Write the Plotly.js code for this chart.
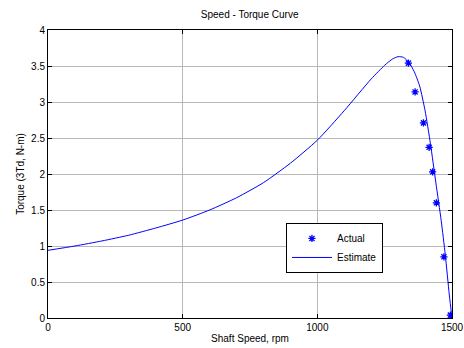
<!DOCTYPE html>
<html>
<head>
<meta charset="utf-8">
<script src="https://cdn.plot.ly/plotly-3.0.1.min.js"></script>
<style>html,body{margin:0;padding:0;background:#fff;}#chart{width:464px;height:348px;}</style>
</head>
<body>
<div id="chart"></div>
<script>
// Measured ("Actual") points
const actualSpeed = [1338, 1363, 1394, 1415, 1428, 1442, 1470, 1494, 1500];
const actualTorque = [3.54, 3.14, 2.71, 2.37, 2.03, 1.60, 0.85, 0.04, 0.0];

// Estimated curve
const estSpeed = [0, 100, 200, 300, 400, 500, 600, 700, 800, 900, 1000, 1100, 1200, 1250, 1280, 1300, 1320, 1340, 1360, 1380, 1400, 1420, 1440, 1460, 1475, 1490, 1500];
const estTorque = [0.94, 1.0, 1.07, 1.15, 1.25, 1.36, 1.50, 1.67, 1.88, 2.15, 2.47, 2.88, 3.32, 3.51, 3.60, 3.63, 3.62, 3.55, 3.42, 3.22, 2.88, 2.42, 1.88, 1.35, 0.88, 0.32, 0.0];

const xTicks = [0, 500, 1000, 1500];
const yTicks = [0, 0.5, 1, 1.5, 2, 2.5, 3, 3.5, 4];

const font = {family: 'Liberation Sans, Arial, sans-serif', size: 10, color: '#000'};

const traces = [
  {
    x: actualSpeed, y: actualTorque, name: 'Actual', mode: 'markers', type: 'scatter',
    marker: {symbol: 'asterisk-open', size: 6, color: '#0000ff', line: {color: '#0000ff', width: 1.3}}
  },
  {
    x: estSpeed, y: estTorque, name: 'Estimate', mode: 'lines', type: 'scatter',
    line: {color: '#0000ff', width: 1, shape: 'spline', smoothing: 0.6}
  }
];

const axisCommon = {
  showline: true, linecolor: '#000', linewidth: 1, mirror: 'ticks',
  ticks: 'inside', ticklen: 4, tickcolor: '#000',
  showgrid: true, gridcolor: '#b8b8b8', gridwidth: 1, zeroline: false,
  tickfont: font
};

const layout = {
  width: 464, height: 348,
  margin: {l: 48, r: 12, t: 30, b: 30},
  paper_bgcolor: '#fff', plot_bgcolor: '#fff',
  font: font,
  title: {text: 'Speed - Torque Curve', font: font, x: 0.538, xanchor: 'center', y: 0.957, yanchor: 'middle'},
  xaxis: Object.assign({}, axisCommon, {
    range: [0, 1500], tickvals: xTicks, ticktext: xTicks.map(String),
    title: {text: 'Shaft Speed, rpm', font: font, standoff: 2}
  }),
  yaxis: Object.assign({}, axisCommon, {
    range: [0, 4], tickvals: yTicks, ticktext: yTicks.map(String),
    title: {text: 'Torque (3Td, N-m)', font: font, standoff: 4}
  }),
  showlegend: true,
  legend: {
    x: 0.589, y: 0.33, xanchor: 'left', yanchor: 'top',
    bgcolor: '#fff', bordercolor: '#000', borderwidth: 1,
    font: {family: 'Liberation Sans, Arial, sans-serif', size: 10, color: '#000'},
    tracegroupgap: 0, itemwidth: 40
  }
};

Plotly.newPlot('chart', traces, layout, {displayModeBar: false, staticPlot: true});
</script>
</body>
</html>
